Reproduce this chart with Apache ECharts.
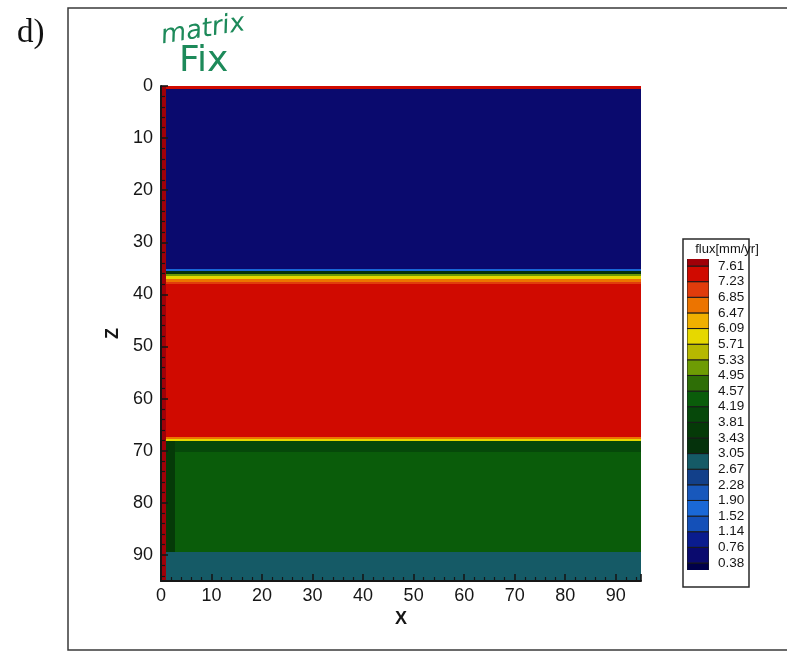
<!DOCTYPE html>
<html>
<head>
<meta charset="utf-8">
<script src="https://cdn.jsdelivr.net/npm/echarts@6/dist/echarts.min.js"></script>
<style>
  html, body { margin: 0; padding: 0; background: #ffffff; }
  #chart { width: 787px; height: 652px; }
</style>
</head>
<body>
<div id="chart"></div>
<script>
// Contour levels of the flux legend [mm/yr]
const levels = [0.38, 0.76, 1.14, 1.52, 1.90, 2.28, 2.67, 3.05, 3.43, 3.81,
                4.19, 4.57, 4.95, 5.33, 5.71, 6.09, 6.47, 6.85, 7.23, 7.61];

// Fill colour of each band, from below the lowest level up to above the highest
const bandColors = ['#00004a', '#0a0a6e', '#0a1c8e', '#1450b8', '#1a68d6', '#1858bc',
                    '#12408a', '#155a66', '#05320c', '#053a08', '#06480a', '#0a5c0a',
                    '#2e6e06', '#6e9c04', '#b6b800', '#e6d800', '#f0b000', '#ec7400',
                    '#e03c0c', '#d00a00', '#a00008'];

// Horizontal layer boundaries along z
const zEdges = [0, 0.6, 35.2, 35.6, 36.0, 36.4, 37.0, 37.6, 38.0, 67.4, 67.7, 68.1, 70.2, 89.4, 95];

// Column boundaries along x: wall strip, near-wall strip, interior
const xEdges = [0, 0.9, 2.8, 95];

// Flux in each z layer for the three column strips [mm/yr]
const fluxWall     = [7.7, 7.7, 7.7, 7.7, 7.7, 7.7, 7.7, 7.7, 7.7, 7.7, 7.7, 7.7, 7.7, 7.7];
const fluxNearWall = [7.4, 0.55, 1.7, 3.2, 5.1, 5.9, 6.6, 7.0, 7.4, 6.6, 5.9, 3.6, 3.6, 2.85];
const fluxInterior = [7.4, 0.55, 1.7, 3.2, 5.1, 5.9, 6.6, 7.0, 7.4, 6.6, 5.9, 4.0, 4.35, 2.85];

// Legend label positions, one per level
const levelIndex = levels.map((v, i) => i);

const columns = [fluxWall, fluxNearWall, fluxInterior];
const cells = [];
for (let i = 0; i < zEdges.length - 1; i++) {
  for (let j = 0; j < xEdges.length - 1; j++) {
    cells.push([xEdges[j], xEdges[j + 1], zEdges[i], zEdges[i + 1], columns[j][i]]);
  }
}

const pieces = bandColors.map((c, k) => {
  if (k === 0) return { lt: levels[0], color: c };
  if (k === levels.length) return { gte: levels[levels.length - 1], color: c };
  return { gte: levels[k - 1], lt: levels[k], color: c };
});

const bandItems = bandColors.map((c, k) => [k]);

const FONT = 'Liberation Sans, Arial, Helvetica, sans-serif';
const INK = '#161616';
const PEN = '#1d8a5a';

const chart = echarts.init(document.getElementById('chart'), null, { renderer: 'canvas' });

chart.setOption({
  backgroundColor: '#ffffff',
  animation: false,
  textStyle: { fontFamily: FONT },
  grid: [
    { left: 161, top: 86, width: 480, height: 495 },
    { left: 687, top: 259, width: 22, height: 311 }
  ],
  xAxis: [
    {
      gridIndex: 0, type: 'value', min: 0, max: 95, interval: 10, z: 5,
      axisLine: { onZero: false, lineStyle: { color: INK, width: 2 } },
      axisTick: { inside: true, length: 7, lineStyle: { color: INK, width: 1.6 } },
      minorTick: { show: true, splitNumber: 5, length: 4, lineStyle: { color: INK, width: 1.2 } },
      axisLabel: { fontSize: 18, color: INK, margin: 6, showMaxLabel: false, fontFamily: FONT },
      splitLine: { show: false },
      name: 'X', nameLocation: 'middle', nameGap: 29,
      nameTextStyle: { fontSize: 18, fontWeight: 'bold', color: INK, fontFamily: FONT }
    },
    { gridIndex: 1, type: 'value', min: 0, max: 1, show: false }
  ],
  yAxis: [
    {
      gridIndex: 0, type: 'value', inverse: true, min: 0, max: 95, interval: 10, z: 5,
      axisLine: { onZero: false, lineStyle: { color: INK, width: 2 } },
      axisTick: { inside: true, length: 7, lineStyle: { color: INK, width: 1.6 } },
      minorTick: { show: true, splitNumber: 5, length: 4, lineStyle: { color: INK, width: 1.2 } },
      axisLabel: { fontSize: 18, color: INK, margin: 8, showMaxLabel: false, fontFamily: FONT },
      splitLine: { show: false },
      name: 'Z', nameLocation: 'middle', nameGap: 35,
      nameTextStyle: { fontSize: 18, fontWeight: 'bold', color: INK, fontFamily: FONT }
    },
    {
      gridIndex: 1, type: 'value', min: -0.45, max: 19.45, position: 'right',
      axisLine: { show: false },
      axisTick: { show: false },
      splitLine: { show: false },
      axisLabel: {
        customValues: levelIndex,
        formatter: v => levels[v].toFixed(2),
        margin: 9, fontSize: 13.5, color: INK, fontFamily: FONT
      }
    }
  ],
  visualMap: {
    type: 'piecewise', show: false, dimension: 4, seriesIndex: 0, pieces: pieces
  },
  series: [
    {
      type: 'custom',
      name: 'flux',
      xAxisIndex: 0, yAxisIndex: 0,
      clip: true,
      data: cells,
      encode: { x: [0, 1], y: [2, 3] },
      renderItem: (params, api) => {
        const p0 = api.coord([api.value(0), api.value(2)]);
        const p1 = api.coord([api.value(1), api.value(3)]);
        const x0 = Math.round(Math.min(p0[0], p1[0]));
        const x1 = Math.round(Math.max(p0[0], p1[0]));
        const y0 = Math.round(Math.min(p0[1], p1[1]));
        const y1 = Math.round(Math.max(p0[1], p1[1]));
        return {
          type: 'rect',
          shape: { x: x0, y: y0, width: Math.max(1, x1 - x0), height: Math.max(1, y1 - y0) },
          style: { fill: api.visual('color') }
        };
      }
    },
    {
      type: 'custom',
      name: 'legend',
      xAxisIndex: 1, yAxisIndex: 1,
      clip: true,
      data: bandItems,
      renderItem: (params, api) => {
        const k = api.value(0);
        const p0 = api.coord([0, k - 1]);
        const p1 = api.coord([1, k]);
        return {
          type: 'rect',
          shape: {
            x: p0[0], y: Math.min(p0[1], p1[1]),
            width: p1[0] - p0[0], height: Math.abs(p1[1] - p0[1])
          },
          style: { fill: bandColors[k], stroke: '#1a1a1a', lineWidth: 1 }
        };
      }
    }
  ],
  graphic: [
    {
      type: 'rect', silent: true, z: -1,
      shape: { x: 68, y: 8, width: 740, height: 642 },
      style: { fill: 'none', stroke: '#3a3a3a', lineWidth: 1.5 }
    },
    {
      type: 'text', left: 17, top: 17,
      style: { text: 'd)', font: '33px "Liberation Serif", "Times New Roman", serif', fill: '#111' }
    },
    {
      type: 'text', x: 159, y: 24, rotation: 0.16,
      style: { text: 'matrix', font: 'italic 26px "DejaVu Sans", sans-serif', fill: PEN }
    },
    {
      type: 'text', x: 179, y: 44,
      style: { text: 'Fix', font: '36px "DejaVu Sans", sans-serif', fill: PEN }
    },
    {
      type: 'rect', silent: true,
      shape: { x: 683, y: 239, width: 66, height: 348 },
      style: { fill: 'none', stroke: '#2a2a2a', lineWidth: 1.5 }
    },
    {
      type: 'text', x: 727, y: 249,
      style: {
        text: 'flux[mm/yr]', font: '13px "Liberation Sans", Arial, sans-serif', fill: INK,
        textAlign: 'center', textVerticalAlign: 'middle'
      }
    }
  ]
});
</script>
</body>
</html>
